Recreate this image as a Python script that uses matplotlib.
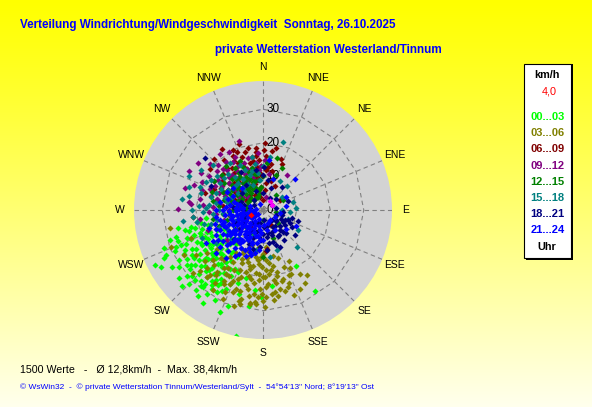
import numpy as np
import matplotlib
matplotlib.use("Agg")
import matplotlib.pyplot as plt
from matplotlib import font_manager
from matplotlib.patches import Rectangle

plt.rcParams["font.family"] = ["Liberation Sans", "DejaVu Sans"]

try:
    font_manager.findfont("Liberation Sans Narrow", fallback_to_default=False)
    title_font = dict(family=["Liberation Sans Narrow", "Liberation Sans"], fontsize=10.2)
except ValueError:
    title_font = dict(family=["Liberation Sans", "DejaVu Sans"], fontsize=8.4)

# wind samples per hour bin: (direction deg, speed km/h)
h00_03 = [(218, 20.5), (240, 23.2), (218, 27.9), (205, 19.5), (247, 26.5), (241, 34.8), (243, 36.0),
          (249, 31.5), (250, 26.9), (244, 32.7), (236, 30.3), (219, 29.3), (208, 30.5), (200, 30.4),
          (192, 38.2), (181, 25.9), (173, 22.8), (147, 28.6), (149, 19.3), (226, 24), (230, 22),
          (234, 19), (228, 17), (222, 16), (215, 15), (212, 18), (210, 22), (214, 25), (221, 23),
          (225, 27), (231, 26), (238, 25), (242, 21), (236, 18), (232, 14), (226, 12.5), (218, 13),
          (224, 20), (216, 21), (211, 26), (204, 24), (207, 27), (199, 23), (202, 20), (196, 26),
          (220, 31), (229, 30), (234, 28), (245, 29), (250, 22), (253, 19), (247, 17), (239, 15),
          (244, 13), (256, 24), (227, 33), (213, 33), (203, 33), (188, 29), (186, 24), (194, 21),
          (209, 16), (230, 20), (223, 18), (217, 24), (235, 23), (241, 27), (228, 25), (213, 28),
          (220, 26), (258, 19), (252, 17), (246, 15),
          (212, 20), (215, 23), (219, 18), (223, 25), (226, 21), (229, 19), (232, 24), (235, 21),
          (238, 19), (241, 24), (244, 22), (247, 20), (250, 24), (253, 27), (246, 25), (239, 29),
          (233, 27), (227, 29), (221, 28), (214, 30), (209, 28), (205, 26), (209, 20), (217, 16),
          (224, 14), (231, 16), (237, 13), (243, 17), (249, 18), (255, 21), (258, 26), (252, 29),
          (245, 32), (238, 32), (231, 32), (225, 31), (217, 32), (210, 25), (214, 27), (228, 22),
          (215, 19), (220, 21), (225, 18), (230, 23), (235, 25), (240, 21), (245, 19), (250, 20),
          (233, 17), (228, 20), (222, 24), (216, 26), (211, 24), (206, 22), (237, 27), (243, 26),
          (248, 23), (254, 23), (257, 22), (224, 29), (231, 28), (218, 29), (247, 28), (236, 15.5),
          (242, 18.5), (227, 14.5), (212, 22), (260, 20), (262, 17), (255, 17)]
h03_06 = [(204, 24), (192, 18), (182, 23.5), (216, 23.8), (194, 27.3), (188, 28.2), (259, 28.2),
          (248, 29.5), (249, 23), (194, 28.7), (188, 27.9), (185, 27.5), (200, 26), (196, 25),
          (178, 26), (146, 23.3), (156, 20.7), (164, 21.4), (168, 20), (172, 24.7), (174, 16),
          (177, 18), (180, 20), (184, 16), (188, 14), (192, 13), (198, 15), (202, 17), (206, 20),
          (210, 18), (214, 21), (218, 19), (222, 22), (208, 25), (200, 22), (190, 21), (186, 25),
          (183, 21), (176, 22), (170, 17), (165, 25), (160, 23), (180, 13), (195, 19), (205, 14),
          (212, 15), (220, 26), (225, 21), (230, 18), (236, 24), (240, 27), (228, 28), (212, 28),
          (204, 29), (197, 30), (191, 24), (184, 28), (179, 29), (173, 27), (168, 14), (176, 11),
          (186, 11), (197, 11), (207, 10), (216, 12), (190, 17), (201, 19), (210, 22), (196, 16),
          (186, 19), (181, 17),
          (175, 19), (178, 23), (181, 25), (184, 19), (187, 22), (189, 26), (192, 20), (193, 23),
          (195, 28), (198, 21), (199, 25), (203, 23), (205, 27), (207, 22), (209, 24), (211, 20),
          (213, 26), (215, 17), (217, 23), (219, 25), (221, 19), (224, 24), (226, 26), (229, 23),
          (232, 21), (186, 15), (189, 12), (193, 17), (196, 14), (200, 13), (203, 16), (208, 13),
          (170, 22), (167, 19), (162, 24), (158, 21), (155, 26), (150, 22), (183, 26), (180, 27),
          (160, 18), (163, 15), (168, 24), (171, 21), (174, 25), (177, 15), (165, 22), (155, 19),
          (150, 25), (153, 17), (172, 18), (178, 20), (182, 14), (160, 27), (170, 26)]
h06_09 = [(8.5, 17.8), (353, 17.5), (331, 18.4), (345, 14.6), (324, 15.6), (4, 11.8), (333, 19.9),
          (264, 21), (23, 14.8), (27, 7.9), (174, 11.8), (176, 12.1), (340, 12), (350, 10), (335, 10),
          (320, 11), (310, 9), (300, 12), (315, 14), (328, 13), (342, 8), (355, 7), (5, 6), (15, 9),
          (10, 14), (358, 13), (348, 16), (338, 17), (322, 19), (312, 16), (305, 15), (295, 13),
          (290, 9), (300, 6), (318, 6), (330, 5), (345, 4), (0, 3), (282, 14), (286, 18), (308, 20),
          (316, 21), (326, 22), (340, 21), (20, 16), (12, 19), (2, 20), (270, 8), (275, 12),
          (260, 10), (250, 7), (232, 9), (215, 6), (150, 5), (60, 6), (354, 18.7), (353, 16.3),
          (329, 17), (320, 16.5),
          (322, 14), (327, 11), (332, 16), (336, 14), (339, 13), (343, 18), (347, 12), (349, 15),
          (352, 13), (356, 15), (359, 10), (3, 16), (7, 13), (356, 11), (348, 9), (344, 11), (337, 8),
          (331, 8), (325, 9), (318, 9), (313, 12), (309, 13), (303, 10), (298, 14), (293, 16), (6, 8),
          (13, 12), (1, 18), (346, 19), (336, 19)]
h09_12 = [(322, 21), (341, 21.8), (301, 21.6), (271, 25.3), (250, 17.5), (34, 12.7), (310, 18),
          (318, 16), (326, 14), (334, 12), (342, 10), (350, 9), (300, 14), (290, 12), (285, 16),
          (280, 19), (295, 20), (305, 11), (315, 9), (325, 8), (335, 7), (312, 6), (298, 8), (280, 7),
          (270, 10), (265, 14), (275, 18), (290, 22), (298, 25), (306, 24), (315, 19), (328, 17),
          (338, 15), (346, 13), (355, 12), (2, 15), (10, 11), (355, 17), (330, 20), (320, 12),
          (308, 13), (292, 17), (283, 11), (262, 19), (255, 12), (245, 10), (240, 6), (230, 14),
          (350, 5), (15, 4), (300, 17), (286, 24), (276, 22), (314, 14), (323, 10), (275, 21.6),
          (283, 14), (288, 19), (291, 14), (296, 16), (299, 12), (302, 19), (304, 16), (307, 10),
          (309, 16), (311, 21), (313, 11), (316, 17), (319, 14), (322, 18), (324, 12), (327, 10),
          (329, 15), (332, 18), (336, 10), (339, 13), (344, 16), (348, 11), (352, 14), (357, 13),
          (278, 13), (273, 15), (268, 16), (285, 9), (294, 7), (303, 7)]
h12_15 = [(24, 13.8), (20, 11), (41, 5.8), (63, 6.6), (180, 14.1), (180, 3), (330, 10), (320, 8),
          (310, 10), (300, 9), (290, 8), (280, 10), (270, 9), (260, 8), (250, 6), (340, 9), (350, 11),
          (355, 7), (0, 10), (345, 13), (335, 14), (325, 12), (315, 13), (305, 14), (295, 13),
          (285, 12), (275, 13), (265, 12), (255, 11), (245, 12), (235, 10), (300, 5), (315, 5),
          (330, 4), (345, 5), (285, 5), (270, 5), (310, 16), (300, 17), (290, 16), (320, 17),
          (335, 16), (5, 14), (15, 16), (340, 4), (260, 15), (250, 14), (100, 4), (130, 6), (160, 9),
          (210, 8), (225, 7), (280, 15), (295, 11), (325, 6),
          (292, 10), (297, 7), (302, 11), (306, 8), (309, 12), (312, 7), (314, 10), (317, 9),
          (319, 12), (322, 7), (324, 10), (327, 13), (329, 8), (332, 11), (334, 7), (337, 10),
          (339, 12), (342, 7), (344, 9), (347, 11), (349, 6), (352, 9), (298, 12), (288, 10),
          (283, 7), (276, 8), (266, 10), (318, 4), (308, 5), (326, 15)]
h15_18 = [(16, 21.1), (56, 6.8), (75, 9.1), (90, 5.6), (94, 8), (87, 9.7), (138, 15), (161, 12.5),
          (295, 24.3), (278, 24.3), (281, 22.4), (300, 18), (310, 15), (320, 13), (290, 15),
          (285, 19), (275, 16), (268, 18), (260, 20), (255, 16), (248, 14), (240, 12), (270, 13),
          (282, 11), (293, 10), (305, 9), (315, 8), (330, 9), (340, 11), (350, 14), (0, 13), (8, 16),
          (325, 17), (312, 20), (303, 22), (290, 20), (262, 24), (270, 21), (245, 20), (235, 17),
          (228, 13), (230, 9), (220, 11), (262, 10), (248, 9), (300, 12), (318, 11), (335, 13),
          (355, 9), (30, 10), (45, 10), (110, 8), (120, 12), (200, 8), (190, 12), (172, 14),
          (253, 12), (258, 14), (265, 15), (272, 17), (278, 14), (284, 16), (288, 12), (296, 14),
          (302, 15), (307, 17), (311, 11), (316, 15), (321, 9), (327, 11), (333, 15), (338, 8),
          (344, 12), (348, 16), (352, 11), (257, 18), (264, 21), (274, 19), (287, 23), (296, 19),
          (266, 12)]
h18_21 = [(112, 7.9), (138, 8.8), (140, 7.7), (114, 7.1), (130, 5), (150, 6), (160, 8), (170, 10),
          (180, 7), (190, 6), (200, 9), (120, 10), (105, 9), (95, 6), (80, 4), (60, 3), (145, 11),
          (155, 12), (165, 5), (175, 3), (200, 4), (220, 5), (240, 4), (260, 3), (280, 4), (300, 3),
          (320, 4), (340, 6), (0, 5), (20, 7), (40, 8.8), (312, 23.1), (330, 13), (350, 12), (295, 17),
          (125, 8), (135, 9.8), (118, 6), (128, 12), (108, 11), (150, 9), (210, 7), (230, 9), (250, 6),
          (270, 6), (290, 7), (310, 8), (325, 9), (10, 9), (30, 4), (50, 5), (70, 8), (185, 11),
          (175, 12), (195, 12),
          (105, 6), (110, 4), (115, 9), (122, 7), (127, 5), (133, 7), (137, 4), (142, 6), (147, 9),
          (152, 4), (157, 7), (162, 10), (167, 7), (172, 8), (178, 5), (183, 9), (188, 8), (193, 4),
          (198, 7), (203, 11), (215, 9), (225, 12), (235, 7), (245, 9), (255, 5), (275, 9), (285, 6),
          (2, 12.7), (0, 10.3), (160, 11)]
h21_24 = [(230, 6.9), (233, 12.2), (189, 5.9), (262, 11.3), (282, 6.9), (145, 3.6), (116, 10.8),
          (7, 15.1), (46, 13.1), (18, 9.6), (210, 5), (220, 8), (240, 9), (250, 7), (225, 10),
          (215, 11), (205, 9), (195, 8), (200, 12), (210, 13), (235, 4), (245, 5), (255, 4), (265, 6),
          (275, 8), (285, 9), (295, 10), (270, 12), (255, 10), (245, 12), (235, 13), (225, 14),
          (215, 7), (205, 6), (190, 10), (180, 9), (170, 6), (160, 4), (150, 7), (130, 9), (120, 4),
          (100, 5), (80, 7), (60, 8), (230, 3), (240, 7.5), (220, 6), (250, 9.5),
          (260, 8), (235, 10.5), (225, 5.5), (212, 9.5), (198, 10.5), (185, 7), (175, 4.5), (205, 3),
          (265, 3), (280, 2), (330, 2), (280, 13), (270, 14),
          (202, 7), (207, 10), (211, 8), (214, 12), (217, 9), (219, 11), (222, 7), (224, 12), (227, 9),
          (229, 11), (231, 8), (234, 10), (236, 6), (238, 12), (241, 8), (243, 10), (246, 7),
          (248, 11), (251, 8), (253, 12), (256, 6), (258, 9), (261, 7), (263, 10), (267, 8), (269, 10),
          (272, 7), (274, 11), (277, 6), (279, 10), (283, 8), (287, 11), (297, 12),
          (306, 11), (317, 9), (195, 5), (190, 8), (185, 9), (200, 10),
          (218, 4), (228, 2), (246, 2.5), (258, 5), (272, 4), (288, 4),
          (205, 13), (208, 15), (212, 16), (216, 14), (220, 16), (223, 13), (226, 15), (229, 17),
          (232, 15), (236, 16), (239, 14), (242, 16), (245, 14), (248, 15), (251, 13), (254, 15),
          (238, 17.5), (228, 19), (240, 19.5), (252, 17), (218, 18), (257, 13), (262, 14),
          (247, 12.5), (213, 11), (233, 11.5), (221, 12),
          (190, 13), (195, 14), (200, 14.5), (185, 12), (198, 13)]
odd_pts = [(38, 3.4), (60, 3.0)]
current = (247, 4.0)

bin_labels = ["00...03", "03...06", "06...09", "09...12", "12...15", "15...18", "18...21", "21...24"]
bin_colors = ["#00ff00", "#808000", "#800000", "#800080", "#008000", "#008080", "#000080", "#0000ff"]
bins = [h00_03, h03_06, h06_09, h09_12, h12_15, h15_18, h18_21, h21_24]

directions = ["N", "NNE", "NE", "ENE", "E", "ESE", "SE", "SSE",
              "S", "SSW", "SW", "WSW", "W", "WNW", "NW", "NNW"]
rings = [10, 20, 30]
r_max = 38.4

W, H = 592, 407
fig = plt.figure(figsize=(W / 100, H / 100), dpi=100)

# background gradient
bg = fig.add_axes([0, 0, 1, 1], zorder=-10)
t = np.linspace(0, 1, 256) ** 1.1
grad = np.ones((256, 2, 3))
grad[:, :, 2] = (t * 0.93)[:, None]
bg.imshow(grad, aspect="auto", extent=[0, 1, 0, 1], origin="upper")
bg.axis("off")

cx, cy, rp = 263, 210, 129
ax = fig.add_axes([(cx - rp) / W, (H - cy - rp) / H, 2 * rp / W, 2 * rp / H], projection="polar")
ax.set_theta_zero_location("N")
ax.set_theta_direction(-1)
ax.set_ylim(0, r_max)
ax.set_facecolor("#d3d3d3")
ax.spines["polar"].set_visible(False)
ax.grid(False)
ax.set_xticks([])
ax.set_yticks([])

th16 = np.deg2rad(np.arange(0, 360 + 22.5, 22.5))
for r in rings:
    ax.plot(th16, [r] * len(th16), color="#808080", lw=0.8, ls=(0, (4, 3)), zorder=1)
for th in th16[:-1]:
    ax.plot([th, th], [0, r_max], color="#808080", lw=0.8, ls=(0, (4, 3)), zorder=1)

for r in [0] + rings:
    ax.annotate(str(r), (0, r), xytext=(2.5, 0), textcoords="offset points",
                fontsize=8.5, va="center", ha="left", zorder=2)

for i, d in enumerate(directions):
    ax.text(np.deg2rad(i * 22.5), 42.5, d, fontsize=7.5, ha="center", va="center", clip_on=False)

mk = dict(ls="none", marker="D", ms=3.1, mew=0, zorder=3)
for pts, col in zip(bins, bin_colors):
    a = np.array(pts, dtype=float)
    ax.plot(np.deg2rad(a[:, 0]), a[:, 1], color=col, **mk)
a = np.array(odd_pts)
ax.plot(np.deg2rad(a[:, 0]), a[:, 1], color="#ff00ff", **mk)
ax.plot(np.deg2rad(current[0]), current[1], color="#ff0000", **mk)


def px(x, y):
    return x / W, 1 - y / H


# titles
fig.text(*px(20, 25), "Verteilung Windrichtung/Windgeschwindigkeit  Sonntag, 26.10.2025",
         color="#0000ff", fontweight="bold", va="center", ha="left", **title_font)
fig.text(*px(215, 50), "private Wetterstation Westerland/Tinnum",
         color="#0000ff", fontweight="bold", va="center", ha="left", **title_font)

# legend box
fig.patches.append(Rectangle(px(526, 260), 47 / W, 196 / H, transform=fig.transFigure,
                             facecolor="black", edgecolor="none", zorder=1))
fig.patches.append(Rectangle(px(524, 258), 47 / W, 194 / H, transform=fig.transFigure,
                             facecolor="white", edgecolor="black", lw=0.8, zorder=2))
fig.text(*px(547, 75), "km/h", fontsize=7.8, fontweight="bold", ha="center", va="center")
fig.text(*px(549, 91), "4,0", fontsize=7.8, color="#ff0000", ha="center", va="center")
for i, (lab, col) in enumerate(zip(bin_labels, bin_colors)):
    fig.text(*px(547.5, 117 + i * 16.2), lab, fontsize=8, fontweight="bold", color=col,
             ha="center", va="center")
fig.text(*px(547, 247), "Uhr", fontsize=7.8, fontweight="bold", ha="center", va="center")

# footer
fig.text(*px(20, 369), "1500 Werte   -   \u00d8 12,8km/h  -  Max. 38,4km/h",
         fontsize=7.7, ha="left", va="center")
fig.text(*px(20, 387), "\u00a9 WsWin32  -  \u00a9 private Wetterstation Tinnum/Westerland/Sylt  -  "
         "54\u00b054'13\" Nord; 8\u00b019'13\" Ost",
         fontsize=6.0, color="#0000ff", ha="left", va="center")

fig.savefig("out.png", dpi=100)
